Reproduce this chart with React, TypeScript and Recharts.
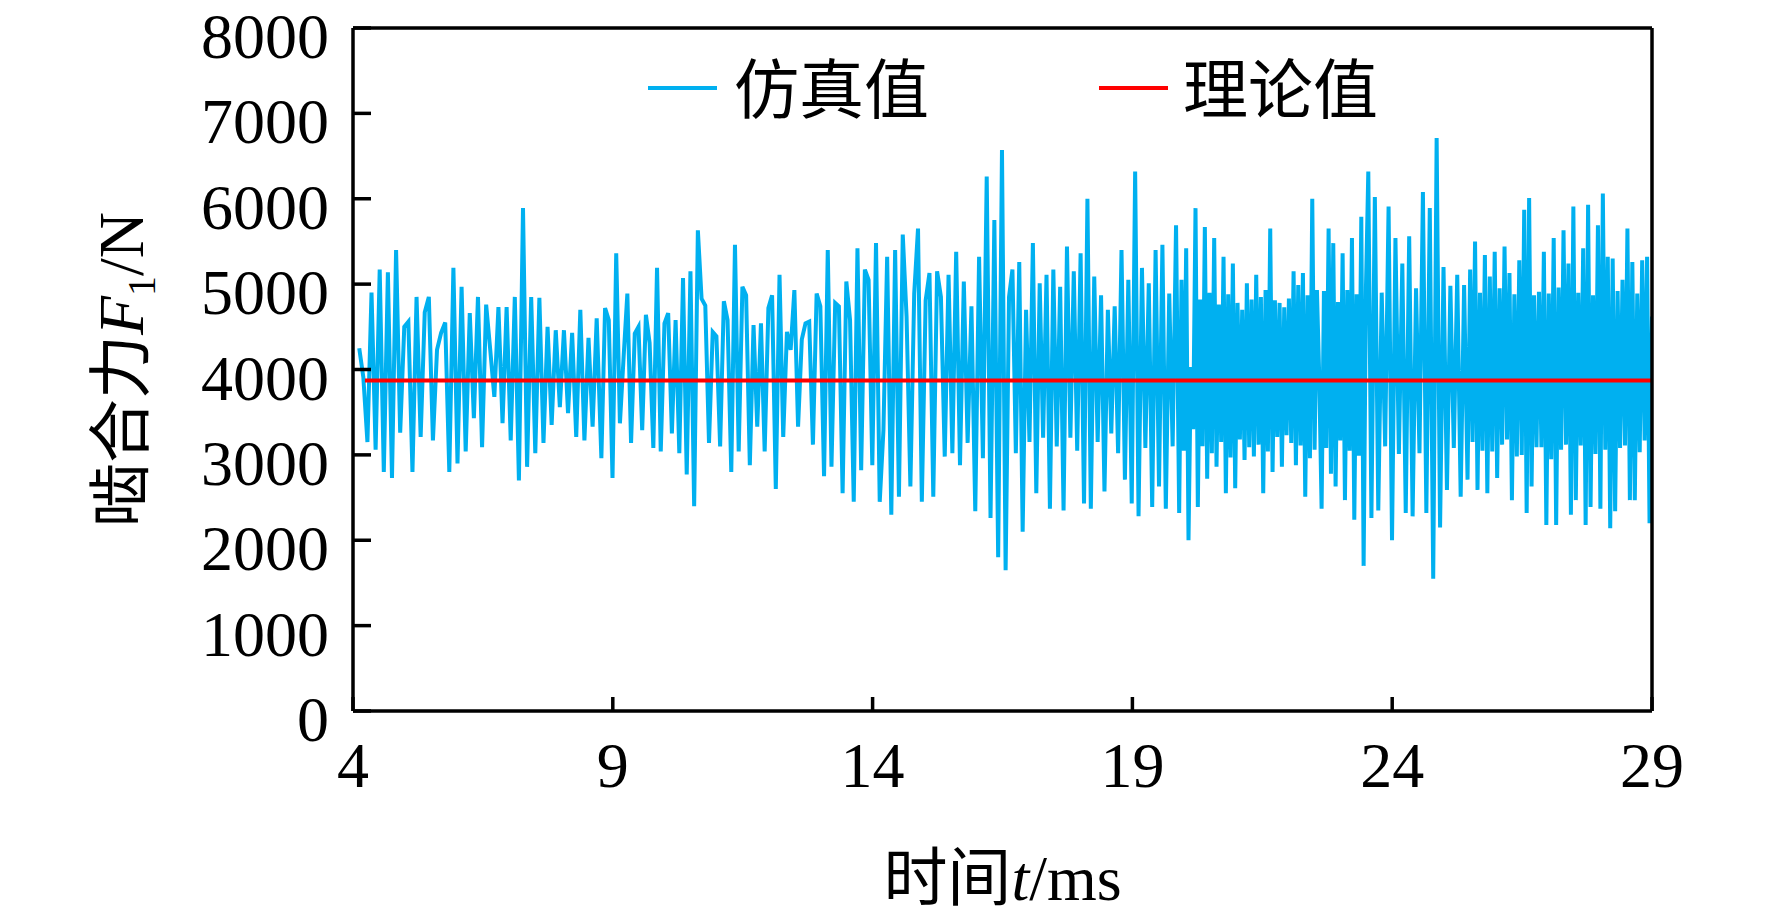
import React from "react";
import { LineChart, Line, XAxis, YAxis, Legend } from "recharts";

// 仿真值: peaks and troughs, one block per stretch of the time axis
const SIM_SPANS: [number, number][] = [
  [4.12, 8.69],
  [8.78, 14.28],
  [14.36, 16.49],
  [16.56, 19.84],
  [19.9, 23.54],
  [23.6, 25.45],
  [25.5, 29],
];

const SIM_1 = [
  4250, 3910, 3150, 4900, 3060, 5170, 2800, 5140, 2730, 5400,
  3260, 4500, 4560, 2800, 4850, 3210, 4670, 4850, 3170, 4230,
  4430, 4550, 2800, 5190, 2900, 4970, 3040, 4660, 3430, 4850,
  3090, 4760, 4230, 3680, 4730, 3370, 4730, 3170, 4850, 2700,
  5890, 2860, 4850, 3020, 4840, 3140, 4500, 3350, 4460, 3560,
  4460, 3490, 4430, 3210, 4700, 3170, 4370, 3330, 4600,
];

const SIM_2 = [
  2960, 4720, 4580, 2730, 5360, 3370, 4150, 4890, 3140, 4420,
  4500, 3290, 4640, 4310, 3080, 5190, 3040, 4540, 4660, 3250,
  4580, 3020, 5070, 2770, 5150, 2400, 5630, 4830, 4750, 3140,
  4440, 4390, 3100, 4800, 4580, 2800, 5460, 3040, 4970, 4870,
  2880, 4520, 3330, 4540, 3040, 4720, 4870, 2600, 5110, 3210,
  4440, 4230, 4930, 3330, 4350, 4540, 4560, 3120, 4890, 4740,
  2750, 5400, 2860, 4780, 4740, 2550, 5030, 4580, 2450, 5420,
  2820, 5170, 5050, 2880, 5480, 2450, 3290, 5320,
];

const SIM_3A = [
  2300, 5400, 2510, 5580, 4620, 2630, 4890, 5650, 2450, 4810,
  5130, 2510, 5150, 4850, 2980, 5110, 3020, 5380, 2880, 5030,
  3140, 4740, 2340, 5320, 2960, 6260, 2260, 5750, 1800, 6570,
];

const SIM_3B = [
  1650, 4850, 5170, 3020, 5260, 2100, 4700, 3150, 5480, 2550,
  5010, 3200, 5110, 2370, 5170, 3100, 4970, 2350, 5440, 3200,
  5150, 3050, 5360, 2430, 6000, 2370, 5090, 3150, 4870, 2570,
  4700, 3250, 4740, 3020, 5400, 2710, 5050, 2430, 6320, 2280,
  5190, 3080, 5010, 2390, 5400, 2630, 5460, 2370, 4890, 3100,
  5690,
];

const SIM_4A = [
  2320, 5050, 3050, 5420, 2000, 4030, 3300, 5890, 2390, 4820,
  3100, 5670, 2720, 4900, 3020, 5540, 2860, 4760, 3150, 5320,
  2550, 4880, 2970, 5240, 2610, 4780, 3180, 4700, 2940, 5010,
  3090, 4820, 2980, 5110, 3120, 4850, 2550, 4930, 3040, 5650,
  2800, 4810, 3210, 4780, 2860, 4730, 3230, 4830, 3140, 5150,
  2880, 4990, 3110, 5130, 2510, 4870, 2960, 6000, 3060, 4930,
  3900, 2370, 4920, 3080, 5650, 2780, 5480, 2630, 4790, 3170,
  5360, 2470, 4930, 3050, 5540, 2240, 4880, 2990, 5790, 1700,
  4960, 6320,
];

const SIM_4B = [
  2260, 6020, 2350, 4900, 3100, 5910, 2000, 5540, 3010, 5240,
  2320, 5560, 2280, 4950, 3020, 6080, 2320, 5890, 1550, 6710,
  2150, 5200, 2590, 4980, 3080, 5110, 2510, 4990, 2710,
];

const SIM_5 = [
  5170, 3150, 5500, 2590, 4900, 3050, 5340, 2550, 5090, 3040,
  5380, 2730, 4950, 3120, 5440, 3180, 5130, 2470, 4880, 2980,
  5280, 3000, 5870, 2320, 6010, 2630, 4870, 3090, 4910, 3090,
  5380, 2180, 4890, 2950, 5540, 2180, 4960, 3060, 5630, 3120,
  5240, 2300, 5910, 2470, 4900, 3110, 5420, 2180, 5930, 2390,
  4870, 3010, 5690, 2370, 6060, 3060, 5320, 2140, 5300, 2340,
  4920, 3080, 5050, 3110, 5650, 2470, 5260, 2470, 4890, 3030,
  5280, 3170, 5320, 2200, 4620,
];

const SIM_BLOCKS = [SIM_1, SIM_2, SIM_3A, SIM_3B, SIM_4A, SIM_4B, SIM_5];

// 理论值
const THEORY_T = [4.23, 29];
const THEORY_F = 3870;

const X_TICKS = [4, 9, 14, 19, 24, 29];
const Y_TICKS = [0, 1000, 2000, 3000, 4000, 5000, 6000, 7000, 8000];

const BLUE = "#00B0F0";
const RED = "#FF0000";
const LATIN = '"Liberation Serif", "Times New Roman", serif';
const CJK = '"Noto Sans CJK SC", sans-serif';
const AXIS_W = 3.5;

function buildSim() {
  const rows: { t: number; f: number }[] = [];
  SIM_BLOCKS.forEach((vals, s) => {
    const [a, b] = SIM_SPANS[s];
    vals.forEach((v, i) => {
      rows.push({ t: a + ((b - a) * i) / (vals.length - 1), f: v });
    });
  });
  return rows;
}

const simData = buildSim();
const theoryData = THEORY_T.map((t) => ({ t, f: THEORY_F }));

function YTick({ x, y, payload }: any) {
  return (
    <g>
      <line x1={x} x2={x + 18} y1={y} y2={y} stroke="#000" strokeWidth={AXIS_W} />
      <text x={x - 24} y={y + 30} textAnchor="end" fontFamily={LATIN} fontSize={64} fill="#000">
        {payload.value}
      </text>
    </g>
  );
}

function XTick({ x, y, payload }: any) {
  return (
    <g>
      <line x1={x} x2={x} y1={y} y2={y - 14} stroke="#000" strokeWidth={AXIS_W} />
      <text x={x} y={y + 76} textAnchor="middle" fontFamily={LATIN} fontSize={64} fill="#000">
        {payload.value}
      </text>
    </g>
  );
}

function YTitle({ viewBox }: any) {
  const cx = viewBox.x + viewBox.width - 210;
  const cy = viewBox.y + viewBox.height / 2;
  return (
    <text
      x={cx}
      y={cy}
      transform={`rotate(-90 ${cx} ${cy})`}
      textAnchor="middle"
      fontSize={64}
      fill="#000"
    >
      <tspan fontFamily={CJK}>啮合力</tspan>
      <tspan fontFamily={LATIN} fontStyle="italic">F</tspan>
      <tspan fontFamily={LATIN} fontSize={40} dy={12}>1</tspan>
      <tspan fontFamily={LATIN} dy={-12}>/N</tspan>
    </text>
  );
}

function XTitle({ viewBox }: any) {
  const cx = viewBox.x + viewBox.width / 2;
  const cy = viewBox.y + 189;
  return (
    <text x={cx} y={cy} textAnchor="middle" fontSize={64} fill="#000">
      <tspan fontFamily={CJK}>时间</tspan>
      <tspan fontFamily={LATIN} fontStyle="italic">t</tspan>
      <tspan fontFamily={LATIN}>/ms</tspan>
    </text>
  );
}

function LegendBox() {
  const item = (left: number, color: string, label: string, textLeft: number) => (
    <>
      <div style={{ position: "absolute", left, top: 86, width: 69, height: 4, background: color }} />
      <div
        style={{
          position: "absolute",
          left: textLeft,
          top: 51,
          fontFamily: CJK,
          fontSize: 65,
          lineHeight: "68px",
          color: "#000",
          whiteSpace: "nowrap",
        }}
      >
        {label}
      </div>
    </>
  );
  return (
    <div style={{ position: "relative", width: 1772, height: 1 }}>
      {item(648, BLUE, "仿真值", 734)}
      {item(1099, RED, "理论值", 1183)}
    </div>
  );
}

export default function App() {
  return (
    <div style={{ position: "absolute", left: 0, top: 0, background: "#fff" }}>
      <LineChart width={1772} height={918} margin={{ top: 27, right: 119, bottom: 206, left: 352 }}>
        <XAxis
          dataKey="t"
          type="number"
          domain={[4, 29]}
          ticks={X_TICKS}
          allowDataOverflow
          height={1}
          tickSize={0}
          tickMargin={0}
          tickLine={false}
          tick={(p: any) => <XTick {...p} />}
          axisLine={{ stroke: "#000", strokeWidth: AXIS_W }}
          label={(p: any) => <XTitle {...p} />}
        />
        <XAxis
          xAxisId="top"
          orientation="top"
          dataKey="t"
          type="number"
          domain={[4, 29]}
          height={1}
          tick={false}
          tickLine={false}
          axisLine={{ stroke: "#000", strokeWidth: AXIS_W }}
        />
        <YAxis
          type="number"
          domain={[0, 8000]}
          ticks={Y_TICKS}
          width={1}
          tickSize={0}
          tickMargin={0}
          tickLine={false}
          tick={(p: any) => <YTick {...p} />}
          axisLine={{ stroke: "#000", strokeWidth: AXIS_W }}
          label={(p: any) => <YTitle {...p} />}
        />
        <YAxis
          yAxisId="right"
          orientation="right"
          type="number"
          domain={[0, 8000]}
          width={1}
          tick={false}
          tickLine={false}
          axisLine={{ stroke: "#000", strokeWidth: AXIS_W }}
        />
        <Legend
          layout="horizontal"
          verticalAlign="middle"
          align="center"
          content={() => <LegendBox />}
          wrapperStyle={{ position: "absolute", top: 0, left: 0, width: 1772 }}
        />
        <Line
          data={simData}
          dataKey="f"
          type="linear"
          stroke={BLUE}
          strokeWidth={4}
          dot={false}
          activeDot={false}
          isAnimationActive={false}
        />
        <Line
          data={theoryData}
          dataKey="f"
          type="linear"
          stroke={RED}
          strokeWidth={4}
          dot={false}
          activeDot={false}
          isAnimationActive={false}
        />
      </LineChart>
    </div>
  );
}
